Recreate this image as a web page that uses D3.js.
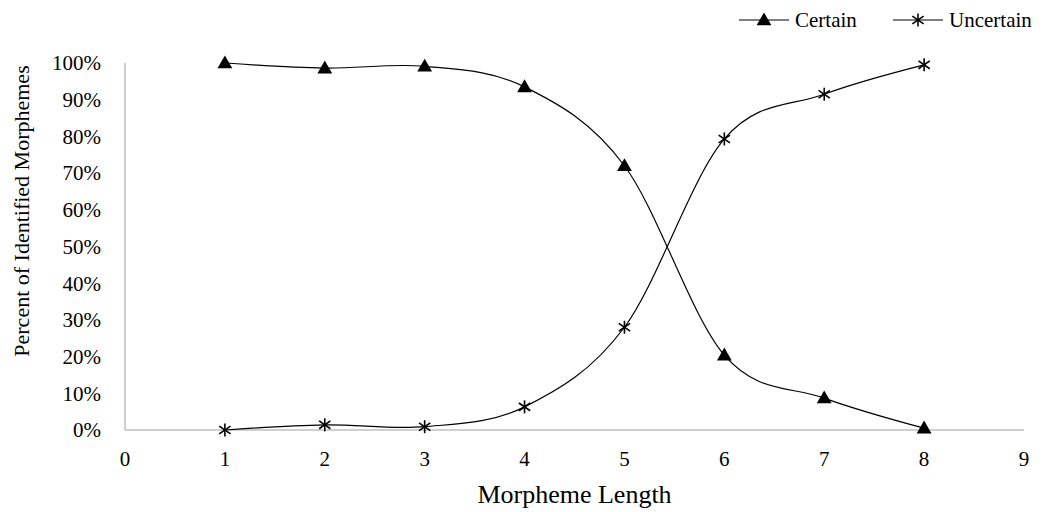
<!DOCTYPE html>
<html lang="en">
<head>
<meta charset="utf-8">
<title>Morpheme Length</title>
<script src="https://cdn.jsdelivr.net/npm/d3@7"></script>
<style>
  body { margin: 0; background: #fff; }
  svg text { font-family: "Liberation Serif", "Times New Roman", Times, "DejaVu Serif", serif; fill: #000; }
</style>
</head>
<body>
<div id="chart"></div>
<script>
// data
var lengths = [1, 2, 3, 4, 5, 6, 7, 8];
var certain = [100, 98.6, 99.1, 93.5, 72, 20.4, 8.7, 0.5];
var uncertain = [0, 1.4, 0.9, 6.3, 28, 79.3, 91.5, 99.5];
var xTicks = [0, 1, 2, 3, 4, 5, 6, 7, 8, 9];
var yTicks = [0, 10, 20, 30, 40, 50, 60, 70, 80, 90, 100];

var W = 1047, H = 512;
var margin = { top: 63, right: 23, bottom: 82, left: 125 };
var width = W - margin.left - margin.right,
    height = H - margin.top - margin.bottom;

var svg = d3.select("#chart").append("svg")
  .attr("width", W).attr("height", H);
var g = svg.append("g")
  .attr("transform", "translate(" + margin.left + "," + margin.top + ")");

var x = d3.scaleLinear().domain([0, 9]).range([0, width]);
var y = d3.scaleLinear().domain([0, 100]).range([height, 0]);

// axes (gray lines, no ticks)
g.append("line").attr("x1", 0).attr("x2", 0).attr("y1", 0).attr("y2", height)
  .attr("stroke", "#bfbfbf").attr("stroke-width", 1.5);
g.append("line").attr("x1", 0).attr("x2", width).attr("y1", height).attr("y2", height)
  .attr("stroke", "#bfbfbf").attr("stroke-width", 1.5);

g.selectAll(".ylab").data(yTicks).enter().append("text")
  .attr("x", -24).attr("y", d => y(d)).attr("dy", "0.35em")
  .attr("text-anchor", "end").style("font-size", "21px")
  .text(d => d + "%");

g.selectAll(".xlab").data(xTicks).enter().append("text")
  .attr("x", d => x(d)).attr("y", height + 36)
  .attr("text-anchor", "middle").style("font-size", "21px")
  .text(d => d);

// axis titles
svg.append("text").attr("x", margin.left + x(4.5)).attr("y", 503)
  .attr("text-anchor", "middle").style("font-size", "26px")
  .text("Morpheme Length");
svg.append("text")
  .attr("transform", "translate(29,211) rotate(-90)")
  .attr("text-anchor", "middle").style("font-size", "22px")
  .text("Percent of Identified Morphemes");

var line = d3.line()
  .x(d => x(d[0])).y(d => y(d[1]))
  .curve(d3.curveCatmullRom.alpha(0));

var certainPts = lengths.map((l, i) => [l, certain[i]]);
var uncertainPts = lengths.map((l, i) => [l, uncertain[i]]);

g.append("path").datum(certainPts).attr("d", line)
  .attr("fill", "none").attr("stroke", "#000").attr("stroke-width", 1.2);
g.append("path").datum(uncertainPts).attr("d", line)
  .attr("fill", "none").attr("stroke", "#000").attr("stroke-width", 1.2);

var tri = d3.symbol().type(d3.symbolTriangle).size(95);
function star(sel) {
  var r = 6.5;
  sel.append("line").attr("x1", 0).attr("x2", 0).attr("y1", -r).attr("y2", r);
  sel.append("line").attr("x1", -r * 0.87).attr("x2", r * 0.87).attr("y1", -r * 0.6).attr("y2", r * 0.6);
  sel.append("line").attr("x1", -r * 0.87).attr("x2", r * 0.87).attr("y1", r * 0.6).attr("y2", -r * 0.6);
  sel.attr("stroke", "#000").attr("stroke-width", 1.6);
}

g.selectAll(".tri").data(certainPts).enter().append("path")
  .attr("d", tri)
  .attr("transform", d => "translate(" + x(d[0]) + "," + (y(d[1]) + 1) + ")")
  .attr("fill", "#000");

g.selectAll(".star").data(uncertainPts).enter().append("g")
  .attr("transform", d => "translate(" + x(d[0]) + "," + y(d[1]) + ")")
  .each(function () { star(d3.select(this)); });

// legend
var lg = svg.append("g").attr("transform", "translate(739,20)");
lg.append("line").attr("x1", 0).attr("x2", 50).attr("stroke", "#000").attr("stroke-width", 1.2);
lg.append("path").attr("d", tri).attr("transform", "translate(25,1)").attr("fill", "#000");
lg.append("text").attr("x", 56).attr("dy", "0.35em").style("font-size", "21px").text("Certain");

var lg2 = svg.append("g").attr("transform", "translate(893,20)");
lg2.append("line").attr("x1", 0).attr("x2", 50).attr("stroke", "#000").attr("stroke-width", 1.2);
lg2.append("g").attr("transform", "translate(25,0)").call(star);
lg2.append("text").attr("x", 56).attr("dy", "0.35em").style("font-size", "21px").text("Uncertain");
</script>
</body>
</html>
